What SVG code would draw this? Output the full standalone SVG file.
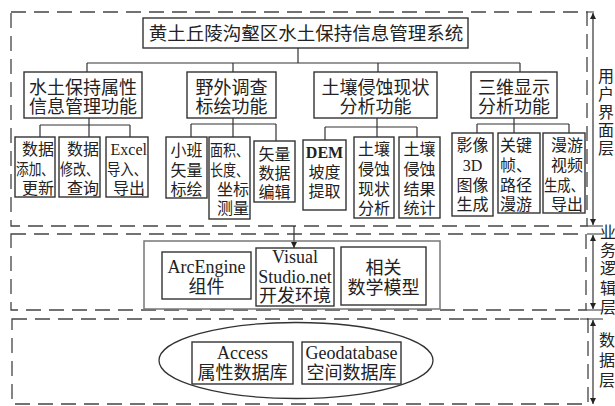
<svg xmlns="http://www.w3.org/2000/svg" width="615" height="406" viewBox="0 0 615 406">
<defs>
<marker id="ah" viewBox="0 0 8 8" refX="8" refY="4" markerWidth="6" markerHeight="6" orient="auto-start-reverse" markerUnits="userSpaceOnUse">
<path d="M0,0 L8,4 L0,8 Z" fill="#222"/>
</marker>
<style>
.layer{fill:none;stroke:#444;stroke-width:1.3;stroke-dasharray:15 8}
.box{fill:#fff;stroke:#333;stroke-width:1.4}
.gbox{fill:none;stroke:#777;stroke-width:1.5}
.ln{fill:none;stroke:#333;stroke-width:1.2}
.t{font-family:"Liberation Serif","Noto Sans CJK SC",serif;fill:#222}
.t19{font-size:18px;text-anchor:middle}
.t16{font-size:16px}
.t18{font-size:18px;text-anchor:middle}
.t17{font-size:16px;text-anchor:middle}
.m{text-anchor:middle}
.e{text-anchor:end}
.s{text-anchor:start}
</style>
</defs>
<rect width="615" height="406" fill="#fff"/>

<g id="layers">
<rect class="layer" x="11" y="12" width="576" height="214"/>
<rect class="layer" x="11" y="234" width="575" height="76"/>
<rect class="layer" x="12" y="319" width="576" height="85"/>
</g>

<g id="connectors">
<path class="ln" d="M298,48 V63 M87,63 H520 M87,63 V72 M233,63 V72 M378,63 V72 M520,63 V72"/>
<path class="ln" d="M89,118 V125 M40,125 H130 M40,125 V137 M89,125 V137 M130,125 V137"/>
<path class="ln" d="M233,118 V124 M191,124 H276 M191,124 V137 M233,124 V137 M276,124 V141"/>
<path class="ln" d="M377,118 V127 M325,127 H417 M325,127 V140 M377,127 V137 M417,127 V137"/>
<path class="ln" d="M514,118 V124 M477,124 H569 M477,124 V133 M514,124 V133 M569,124 V133"/>
<line class="ln" x1="294" y1="226" x2="294" y2="248" marker-end="url(#ah)"/>
<line class="ln" x1="593" y1="13" x2="593" y2="225" marker-start="url(#ah)" marker-end="url(#ah)"/>
<line class="ln" x1="593" y1="235" x2="593" y2="309" marker-start="url(#ah)" marker-end="url(#ah)"/>
<line class="ln" x1="593" y1="320" x2="593" y2="404" marker-start="url(#ah)" marker-end="url(#ah)"/>
<path class="ln" d="M587,12 H594 M587,226 H603 M587,234 H603 M586,310 H603 M580,319 H603"/>
</g>

<g id="title">
<rect class="box" x="143" y="18" width="325" height="30"/>
<text class="t m" x="306" y="40" font-size="18.5">黄土丘陵沟壑区水土保持信息管理系统</text>
</g>

<g id="f1">
<rect class="box" x="24" y="72" width="118" height="46"/>
<text class="t t19" x="83" y="93.5">水土保持属性</text>
<text class="t t19" x="83" y="113">信息管理功能</text>
</g>
<g id="f2">
<rect class="box" x="187" y="72" width="89" height="46"/>
<text class="t t19" x="231.5" y="93.5">野外调查</text>
<text class="t t19" x="231.5" y="113">标绘功能</text>
</g>
<g id="f3">
<rect class="box" x="314" y="72" width="123" height="46"/>
<text class="t t19" x="375.5" y="93.5">土壤侵蚀现状</text>
<text class="t t19" x="375.5" y="113">分析功能</text>
</g>
<g id="f4">
<rect class="box" x="471" y="72" width="86" height="46"/>
<text class="t t19" x="514" y="93.5">三维显示</text>
<text class="t t19" x="514" y="113">分析功能</text>
</g>

<g id="c1">
<rect class="box" x="15" y="137" width="40" height="60"/>
<text class="t t16 e" x="54" y="155">数据</text>
<text class="t t16 s" x="16" y="175" textLength="38" lengthAdjust="spacingAndGlyphs">添加、</text>
<text class="t t16 e" x="54" y="194">更新</text>
</g>
<g id="c2">
<rect class="box" x="59" y="137" width="41" height="60"/>
<text class="t t16 e" x="99" y="155">数据</text>
<text class="t t16 s" x="60" y="175" textLength="39" lengthAdjust="spacingAndGlyphs">修改、</text>
<text class="t t16 e" x="99" y="194">查询</text>
</g>
<g id="c3">
<rect class="box" x="106" y="137" width="42" height="60"/>
<text class="t t16 e" x="147" y="155">Excel</text>
<text class="t t16 s" x="107" y="175" textLength="40" lengthAdjust="spacingAndGlyphs">导入、</text>
<text class="t t16 e" x="145" y="194">导出</text>
</g>
<g id="c4">
<rect class="box" x="166" y="137" width="41" height="61"/>
<text class="t t16 m" x="186.5" y="156">小班</text>
<text class="t t16 m" x="186.5" y="176">矢量</text>
<text class="t t16 m" x="186.5" y="195">标绘</text>
</g>
<g id="c5">
<rect class="box" x="209" y="137" width="41" height="82"/>
<text class="t t16 s" x="210" y="156" textLength="39" lengthAdjust="spacingAndGlyphs">面积、</text>
<text class="t t16 s" x="210" y="176" textLength="39" lengthAdjust="spacingAndGlyphs">长度、</text>
<text class="t t16 e" x="249" y="195">坐标</text>
<text class="t t16 e" x="249" y="214">测量</text>
</g>
<g id="c6">
<rect class="box" x="254" y="141" width="41" height="61"/>
<text class="t t16 m" x="274.5" y="160">矢量</text>
<text class="t t16 m" x="274.5" y="179">数据</text>
<text class="t t16 m" x="274.5" y="198">编辑</text>
</g>
<g id="c7">
<rect class="box" x="303" y="140" width="43" height="70"/>
<text class="t t16 m" x="324.5" y="158" font-weight="bold">DEM</text>
<text class="t t16 m" x="324.5" y="178">坡度</text>
<text class="t t16 m" x="324.5" y="197">提取</text>
</g>
<g id="c8">
<rect class="box" x="354" y="137" width="40" height="81"/>
<text class="t t16 m" x="374" y="155">土壤</text>
<text class="t t16 m" x="374" y="175">侵蚀</text>
<text class="t t16 m" x="374" y="195">现状</text>
<text class="t t16 m" x="374" y="214">分析</text>
</g>
<g id="c9">
<rect class="box" x="399" y="137" width="41" height="81"/>
<text class="t t16 m" x="419.5" y="155">土壤</text>
<text class="t t16 m" x="419.5" y="175">侵蚀</text>
<text class="t t16 m" x="419.5" y="195">结果</text>
<text class="t t16 m" x="419.5" y="214">统计</text>
</g>
<g id="c10">
<rect class="box" x="452" y="133" width="41" height="83"/>
<text class="t t16 m" x="472.5" y="151">影像</text>
<text class="t t16 m" x="472.5" y="171">3D</text>
<text class="t t16 m" x="472.5" y="191">图像</text>
<text class="t t16 m" x="472.5" y="210">生成</text>
</g>
<g id="c11">
<rect class="box" x="498" y="133" width="42" height="80"/>
<text class="t t16 s" x="500" y="151">关键</text>
<text class="t t16 s" x="500" y="171">帧、</text>
<text class="t t16 s" x="500" y="191">路径</text>
<text class="t t16 s" x="500" y="210">漫游</text>
</g>
<g id="c12">
<rect class="box" x="543" y="133" width="42" height="80"/>
<text class="t t16 e" x="583" y="151">漫游</text>
<text class="t t16 e" x="583" y="171">视频</text>
<text class="t t16 s" x="544" y="191" textLength="40" lengthAdjust="spacingAndGlyphs">生成、</text>
<text class="t t16 e" x="583" y="210">导出</text>
</g>

<g id="logic">
<rect class="gbox" x="144" y="241" width="296" height="68"/>
</g>
<g id="arcengine">
<rect class="box" x="162" y="252" width="89" height="47"/>
<text class="t t18" x="206.5" y="273">ArcEngine</text>
<text class="t t18" x="206.5" y="293">组件</text>
</g>
<g id="vs">
<rect class="box" x="256" y="248" width="78" height="58"/>
<text class="t t18" x="295" y="263">Visual</text>
<text class="t t18" x="295" y="283">Studio.net</text>
<text class="t t18" x="295" y="302">开发环境</text>
</g>
<g id="math">
<rect class="box" x="341" y="247" width="85" height="58"/>
<text class="t t18" x="383.5" y="274">相关</text>
<text class="t t18" x="383.5" y="294">数学模型</text>
</g>

<g id="db">
<ellipse cx="296" cy="360.5" rx="137" ry="38" fill="none" stroke="#333" stroke-width="1.3"/>
</g>
<g id="access">
<rect class="box" x="192" y="342" width="101" height="42"/>
<text class="t t18" x="242.5" y="359">Access</text>
<text class="t t18" x="242.5" y="379">属性数据库</text>
</g>
<g id="geodb">
<rect class="box" x="302" y="342" width="99" height="42"/>
<text class="t t18" x="351.5" y="359">Geodatabase</text>
<text class="t t18" x="351.5" y="379">空间数据库</text>
</g>

<g id="labels">
<text class="t t17" x="606"><tspan x="606" y="82">用</tspan><tspan x="606" y="100">户</tspan><tspan x="606" y="118">界</tspan><tspan x="606" y="136">面</tspan><tspan x="606" y="154">层</tspan></text>
<text class="t t17" x="608"><tspan x="608" y="238">业</tspan><tspan x="608" y="256">务</tspan><tspan x="608" y="274">逻</tspan><tspan x="608" y="294">辑</tspan><tspan x="608" y="313">层</tspan></text>
<text class="t t17" x="607"><tspan x="607" y="346">数</tspan><tspan x="607" y="366">据</tspan><tspan x="607" y="386">层</tspan></text>
</g>
</svg>
